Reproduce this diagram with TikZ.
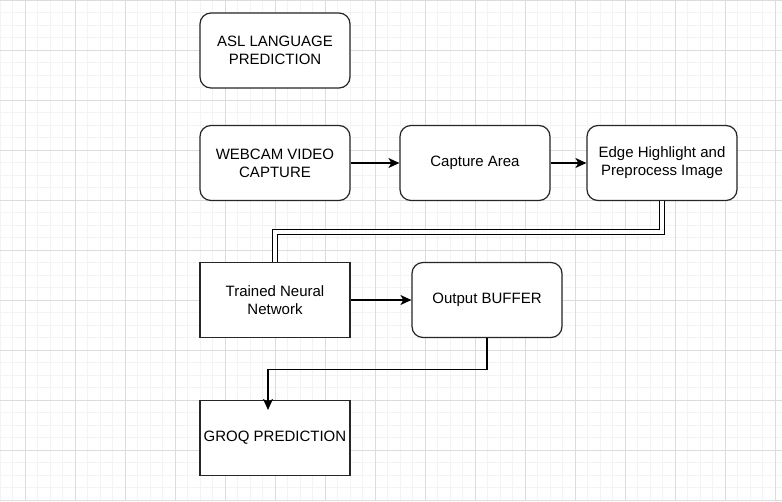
\documentclass[tikz,border=0pt]{standalone}
\usepackage{fontspec}
\setmainfont{Liberation Sans}
\usetikzlibrary{arrows.meta}
\definecolor{gridminor}{HTML}{F3F3F3}
\definecolor{gridmajor}{HTML}{DCDCDC}

\begin{document}
\begin{tikzpicture}[x=1pt, y=-1pt,
    roundbox/.style={draw=black!85, line width=1.2pt, fill=white, rounded corners=11pt,
        minimum width=150pt, minimum height=75pt, inner sep=0pt, align=center,
        font=\fontsize{15}{18}\selectfont},
    plainbox/.style={roundbox, sharp corners},
    flow/.style={line width=1.2pt, -{Stealth[length=11pt,width=10pt,inset=3pt]}},
    link/.style={double, double distance=3.5pt, line width=1pt}]

    % Page and grid
    \useasboundingbox (0,0) rectangle (782,501);
    \fill[white] (0,0) rectangle (782,501);
    \foreach \x in {0,12.5,...,782} \draw[gridminor, line width=1pt] (\x,0) -- (\x,501);
    \foreach \y in {0,12.5,...,501} \draw[gridminor, line width=1pt] (0,\y) -- (782,\y);
    \foreach \x in {25,75,...,775} \draw[gridmajor, line width=1pt] (\x,0) -- (\x,501);
    \foreach \y in {0,50,...,500} \draw[gridmajor, line width=1pt] (0,\y) -- (782,\y);

    % Boxes
    \node[roundbox] (asl) at (275,50.5) {ASL LANGUAGE\\PREDICTION};
    \node[roundbox] (webcam) at (275,163) {WEBCAM VIDEO\\CAPTURE};
    \node[roundbox] (capture) at (475,163) {Capture Area};
    \node[roundbox] (edge) at (662,163) {Edge Highlight and\\Preprocess Image};
    \node[plainbox] (trained) at (275,300) {Trained Neural\\Network};
    \node[roundbox] (outbuf) at (487,300) {Output BUFFER};
    \node[plainbox] (groq) at (275,438) {GROQ PREDICTION};

    % Connectors
    \draw[flow] (webcam) -- (capture);
    \draw[flow] (capture) -- (edge);
    \draw[link] (edge.south) -- ++(0,31) -| (trained.north);
    \draw[flow] (trained) -- (outbuf);
    \draw[flow] (outbuf.south) -- ++(0,31) -| ([xshift=-7pt,yshift=-10pt]groq.north);

\end{tikzpicture}
\end{document}
